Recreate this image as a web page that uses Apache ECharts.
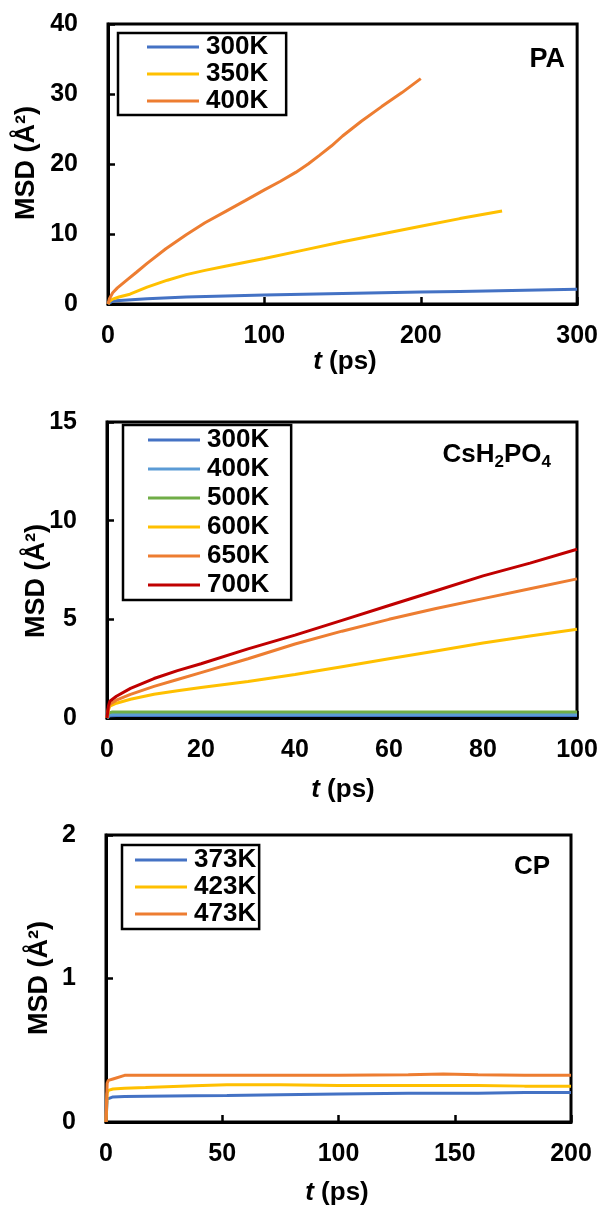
<!DOCTYPE html>
<html>
<head>
<meta charset="utf-8">
<script src="https://cdn.jsdelivr.net/npm/echarts@6/dist/echarts.min.js"></script>
<style>
  html, body { margin: 0; padding: 0; background: #fff; }
  #chart { width: 601px; height: 1209px; }
</style>
</head>
<body>
<div id="chart"></div>
<script>
// ---- PA panel (t in ps, MSD in A^2)
var paT300 = [0, 2, 5, 10, 25, 50, 75, 100, 125, 150, 175, 200, 225, 250, 275, 300];
var paMsd300 = [0, 0.3, 0.45, 0.55, 0.75, 1.0, 1.15, 1.3, 1.4, 1.5, 1.6, 1.7, 1.8, 1.9, 2.0, 2.1];
var paT350 = [0, 1, 3, 7, 14, 25, 38, 50, 62, 75, 100, 125, 150, 175, 200, 225, 252];
var paMsd350 = [0, 0.4, 0.7, 1.0, 1.4, 2.4, 3.4, 4.2, 4.8, 5.4, 6.5, 7.7, 8.9, 10.0, 11.1, 12.2, 13.3];
var paT400 = [0, 1, 3, 6, 12, 18, 25, 37, 50, 62, 75, 88, 100, 110, 120, 128, 135, 143, 150, 162, 175, 188, 200];
var paMsd400 = [0, 0.8, 1.6, 2.3, 3.4, 4.5, 5.8, 7.9, 9.9, 11.6, 13.2, 14.8, 16.3, 17.5, 18.8, 20.0, 21.2, 22.6, 24.0, 26.1, 28.2, 30.2, 32.2];

// ---- CsH2PO4 panel
var csT = [0, 0.3, 0.6, 1, 2, 5, 10, 15, 20, 30, 40, 50, 60, 70, 80, 90, 100];
var csMsd300 = [0, 0.1, 0.12, 0.13, 0.13, 0.13, 0.13, 0.13, 0.13, 0.13, 0.13, 0.13, 0.13, 0.13, 0.13, 0.13, 0.13];
var csMsd400 = [0, 0.14, 0.17, 0.18, 0.18, 0.18, 0.18, 0.18, 0.18, 0.18, 0.18, 0.18, 0.18, 0.18, 0.18, 0.18, 0.18];
var csMsd500 = [0, 0.25, 0.29, 0.3, 0.3, 0.3, 0.3, 0.3, 0.31, 0.31, 0.3, 0.3, 0.3, 0.3, 0.3, 0.3, 0.3];
var csMsd600 = [0, 0.4, 0.6, 0.65, 0.75, 0.95, 1.2, 1.38, 1.55, 1.85, 2.2, 2.6, 3.0, 3.4, 3.8, 4.15, 4.5];
var csMsd650 = [0, 0.5, 0.7, 0.8, 0.9, 1.2, 1.6, 1.95, 2.3, 3.0, 3.75, 4.4, 5.0, 5.55, 6.05, 6.55, 7.05];
var csMsd700 = [0, 0.6, 0.85, 0.95, 1.1, 1.5, 2.0, 2.4, 2.75, 3.5, 4.2, 4.95, 5.7, 6.45, 7.2, 7.85, 8.55];

// ---- CP panel
var cpT = [0, 0.5, 1, 3, 8, 17, 38, 52, 75, 100, 130, 145, 160, 180, 200];
var cpMsd373 = [0, 0.16, 0.17, 0.175, 0.178, 0.18, 0.183, 0.185, 0.19, 0.195, 0.2, 0.2, 0.2, 0.205, 0.205];
var cpMsd423 = [0, 0.2, 0.22, 0.23, 0.235, 0.24, 0.253, 0.26, 0.26, 0.255, 0.255, 0.255, 0.255, 0.25, 0.25];
var cpMsd473 = [0, 0.27, 0.29, 0.3, 0.325, 0.325, 0.325, 0.325, 0.325, 0.325, 0.33, 0.335, 0.33, 0.325, 0.325];

var blue = '#4472C4', lightBlue = '#5B9BD5', green = '#70AD47',
    yellow = '#FFC000', orange = '#ED7D31', red = '#C00000';
var fam = '"Liberation Sans", Arial, sans-serif';

function pairs(t, v) {
  return t.map(function (x, i) { return [x, v[i]]; });
}

function line(name, idx, color, t, v) {
  return {
    name: name, type: 'line', xAxisIndex: idx, yAxisIndex: idx,
    data: pairs(t, v), showSymbol: false, symbol: 'none',
    lineStyle: { color: color, width: 3 }, itemStyle: { color: color },
    animation: false
  };
}

function xAx(idx, max, interval) {
  return {
    type: 'value', gridIndex: idx, min: 0, max: max, interval: interval,
    axisLine: { show: true, onZero: false, lineStyle: { color: '#000', width: 3 } },
    axisTick: { show: true, inside: true, length: 7, lineStyle: { color: '#000', width: 2.5 } },
    axisLabel: { color: '#000', fontSize: 25, fontWeight: 'bold', fontFamily: fam, margin: 20 },
    splitLine: { show: false }
  };
}

function yAx(idx, max, interval) {
  return {
    type: 'value', gridIndex: idx, min: 0, max: max, interval: interval,
    axisLine: { show: true, onZero: false, lineStyle: { color: '#000', width: 3 } },
    axisTick: { show: true, inside: true, length: 7, lineStyle: { color: '#000', width: 2.5 } },
    axisLabel: { color: '#000', fontSize: 25, fontWeight: 'bold', fontFamily: fam, margin: 30 },
    splitLine: { show: false }
  };
}

function legend(names, left, top, padding, gap) {
  return {
    data: names, orient: 'vertical', left: left, top: top,
    padding: padding, itemGap: gap, itemWidth: 52, itemHeight: 3,
    icon: 'rect', borderColor: '#000', borderWidth: 2.5, borderRadius: 0,
    backgroundColor: '#fff', selectedMode: false,
    formatter: function (n) { return n.split(' ')[1]; },
    textStyle: { color: '#000', fontSize: 26, fontWeight: 'bold', fontFamily: fam, lineHeight: 24, padding: [0, 0, 0, 2] }
  };
}

function label(text, x, y, rot, align, size) {
  return {
    type: 'text', x: x, y: y, rotation: rot || 0, z: 100,
    style: {
      text: text, fill: '#000', fontSize: size || 26, fontWeight: 'bold', fontFamily: fam,
      textAlign: align || 'center', textVerticalAlign: 'middle',
      rich: {
        i: { fontSize: size || 26, fontWeight: 'bold', fontStyle: 'italic', fontFamily: fam },
        b: { fontSize: 26, fontWeight: 'bold', fontFamily: fam, verticalAlign: 'top', height: 30 },
        s: { fontSize: 17, fontWeight: 'bold', fontFamily: fam, verticalAlign: 'top', padding: [14, 0, 0, 0] }
      }
    }
  };
}

var gridStyle = { show: true, borderColor: '#000', borderWidth: 3, containLabel: false };

var option = {
  backgroundColor: '#fff',
  animation: false,
  grid: [
    Object.assign({ left: 108, top: 24, width: 472, height: 280 }, gridStyle),
    Object.assign({ left: 107, top: 422, width: 470, height: 296 }, gridStyle),
    Object.assign({ left: 106, top: 835, width: 465, height: 287 }, gridStyle)
  ],
  xAxis: [xAx(0, 300, 100), xAx(1, 100, 20), xAx(2, 200, 50)],
  yAxis: [yAx(0, 40, 10), yAx(1, 15, 5), yAx(2, 2, 1)],
  legend: [
    legend(['PA 300K', 'PA 350K', 'PA 400K'], 118, 33, [1, 18, 1, 29], 1),
    legend(['Cs 300K', 'Cs 400K', 'Cs 500K', 'Cs 600K', 'Cs 650K', 'Cs 700K'], 123, 425, [2, 22, 2, 25], 3),
    legend(['CP 373K', 'CP 423K', 'CP 473K'], 122, 845, [2, 3, 2, 13], 1)
  ],
  graphic: [
    label('MSD (Å²)', 27, 163, Math.PI / 2, 'center', 27),
    label('MSD (Å²)', 37, 581, Math.PI / 2, 'center', 27),
    label('MSD (Å²)', 40, 978, Math.PI / 2, 'center', 27),
    label('{i|t} (ps)', 345, 362),
    label('{i|t} (ps)', 343, 790),
    label('{i|t} (ps)', 337, 1193),
    label('PA', 565, 60, 0, 'right', 27),
    label('{b|CsH}{s|2}{b|PO}{s|4}', 551, 455, 0, 'right'),
    label('CP', 550, 867, 0, 'right', 26)
  ],
  series: [
    line('PA 300K', 0, blue, paT300, paMsd300),
    line('PA 350K', 0, yellow, paT350, paMsd350),
    line('PA 400K', 0, orange, paT400, paMsd400),
    line('Cs 300K', 1, blue, csT, csMsd300),
    line('Cs 400K', 1, lightBlue, csT, csMsd400),
    line('Cs 500K', 1, green, csT, csMsd500),
    line('Cs 600K', 1, yellow, csT, csMsd600),
    line('Cs 650K', 1, orange, csT, csMsd650),
    line('Cs 700K', 1, red, csT, csMsd700),
    line('CP 373K', 2, blue, cpT, cpMsd373),
    line('CP 423K', 2, yellow, cpT, cpMsd423),
    line('CP 473K', 2, orange, cpT, cpMsd473)
  ]
};

var chart = echarts.init(document.getElementById('chart'), null, { renderer: 'canvas' });
chart.setOption(option);
</script>
</body>
</html>
